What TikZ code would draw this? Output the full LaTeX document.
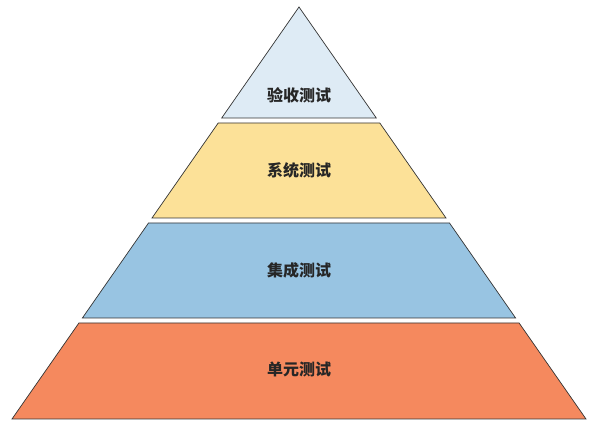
\documentclass[tikz,border=0pt]{standalone}
\usepackage{fontspec}
\newfontfamily\cjk{Noto Sans CJK SC}
\usepackage{xcolor}
\usepackage{tikz}
\usetikzlibrary{calc}
\definecolor{celeste}{HTML}{DEEBF5}
\definecolor{arena}{HTML}{FCE198}
\definecolor{azulclaro}{HTML}{98C4E2}
\definecolor{salmon}{HTML}{F5895E}
\tikzset{
  every picture/.style={x=1pt, y=-1pt},
  capa/.style={draw=black!80, line width=0.7pt, line join=miter},
  rotulo/.style={font=\cjk\bfseries\fontsize{16}{19}\selectfont, text=black!85},
}

\begin{document}
\begin{tikzpicture}
  \useasboundingbox (0,0) rectangle (603,427);
  \coordinate (cima) at (299,7);
  % niveles de la piramide
  \filldraw[capa, fill=celeste] (cima) -- (221.7,118) -- (376.3,118) -- cycle;
  \filldraw[capa, fill=arena] (218.2,123) -- (152.0,218) -- (446.0,218) -- (379.8,123) -- cycle;
  \filldraw[capa, fill=azulclaro] (148.5,223) -- (82.4,318) -- (515.6,318) -- (449.5,223) -- cycle;
  \filldraw[capa, fill=salmon] (78.9,323) -- (12.0,419) -- (586.0,419) -- (519.1,323) -- cycle;
  % rotulos
  \node[rotulo] (aceptacion) at (299,95) {验收测试};
  \node[rotulo] (sistema) at (299,170) {系统测试};
  \node[rotulo] (integracion) at (299,270) {集成测试};
  \node[rotulo] (unidad) at (299,369) {单元测试};
\end{tikzpicture}
\end{document}
